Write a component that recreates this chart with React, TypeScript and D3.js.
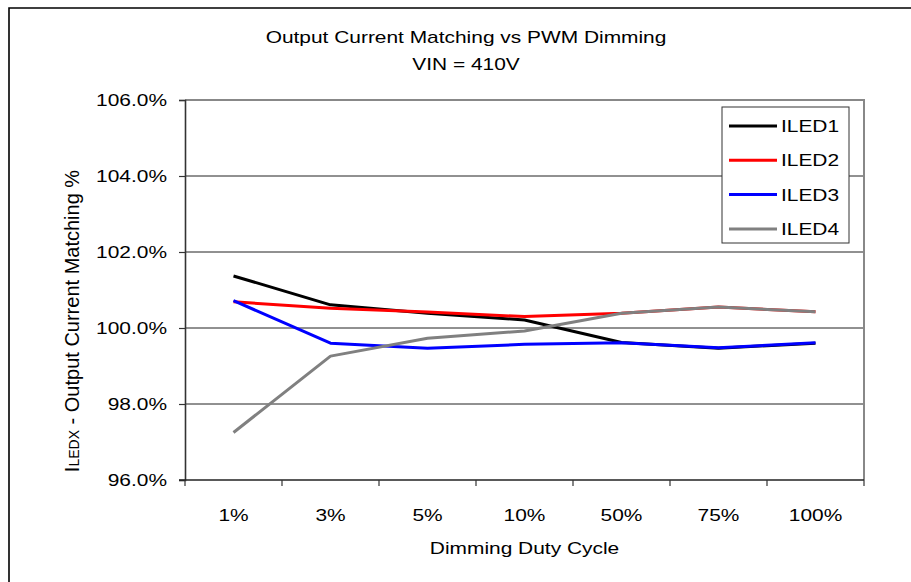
import React, { useEffect, useRef } from 'react'
import * as d3 from 'd3'

const categories = ['1%', '3%', '5%', '10%', '50%', '75%', '100%']
const iled1 = [101.37, 100.61, 100.39, 100.21, 99.62, 99.47, 99.6]
const iled2 = [100.69, 100.52, 100.42, 100.3, 100.39, 100.55, 100.43]
const iled3 = [100.72, 99.6, 99.47, 99.57, 99.61, 99.48, 99.61]
const iled4 = [97.25, 99.26, 99.73, 99.92, 100.39, 100.55, 100.43]
const seriesNames = ['ILED1', 'ILED2', 'ILED3', 'ILED4']
const seriesColors = ['#000000', '#ff0000', '#0000ff', '#808080']
const yTicks = [96, 98, 100, 102, 104, 106]

const FONT = '"Liberation Sans", Arial, sans-serif'
// the reference text is a bit wider than plain Arial
const SX = 1.23

export default function App() {
  const ref = useRef<SVGSVGElement | null>(null)

  useEffect(() => {
    const svg = d3.select(ref.current)
    svg.selectAll('*').remove()

    const left = 185
    const right = 864
    const top = 100
    const bottom = 480

    const x = d3.scaleBand<string>().domain(categories).range([left, right])
    const y = d3.scaleLinear().domain([96, 106]).range([bottom, top])

    const label = (g: any, tx: number, ty: number, str: string, anchor = 'middle') =>
      g.append('text')
        .attr('transform', `translate(${tx},${ty}) scale(${SX},1)`)
        .attr('text-anchor', anchor)
        .attr('font-family', FONT).attr('font-size', 17)
        .text(str)

    // outer frame
    svg.append('path')
      .attr('d', 'M9,600 V8 H920')
      .attr('fill', 'none')
      .attr('stroke', '#000')
      .attr('stroke-width', 1.6)

    // title
    label(svg, 466, 43, 'Output Current Matching vs PWM Dimming')
    label(svg, 466, 70, 'VIN = 410V')

    // gridlines
    svg.append('g')
      .selectAll('line')
      .data(yTicks.filter(d => d > 96 && d < 106))
      .enter()
      .append('line')
      .attr('x1', left).attr('x2', right)
      .attr('y1', d => y(d)).attr('y2', d => y(d))
      .attr('stroke', '#222').attr('stroke-width', 1)

    // plot border top / right (gray)
    svg.append('path')
      .attr('d', `M${left},${y(106)} H${right} V${bottom}`)
      .attr('fill', 'none')
      .attr('stroke', '#888')
      .attr('stroke-width', 2)

    // y axis
    const yAxis = svg.append('g')
      .attr('transform', `translate(${left},0)`)
      .call(d3.axisLeft(y)
        .tickValues(yTicks)
        .tickSize(6)
        .tickPadding(18)
        .tickFormat(d => `${(d as number).toFixed(1)}%`))
    yAxis.select('.domain').attr('stroke', '#333').attr('stroke-width', 1.6)
    yAxis.selectAll('.tick line').attr('stroke', '#333').attr('stroke-width', 1.2)
    yAxis.selectAll('.tick text')
      .attr('font-family', FONT).attr('font-size', 17).attr('fill', '#000')
      .attr('x', 0)
      .attr('transform', `translate(-18,0) scale(${SX},1)`)

    // x axis
    const xAxis = svg.append('g')
    xAxis.append('line')
      .attr('x1', left - 6).attr('x2', right)
      .attr('y1', bottom).attr('y2', bottom)
      .attr('stroke', '#222').attr('stroke-width', 1.6)
    const bounds = categories.map(c => x(c) as number).concat([right])
    xAxis.selectAll('line.tk')
      .data(bounds)
      .enter()
      .append('line')
      .attr('class', 'tk')
      .attr('x1', d => d).attr('x2', d => d)
      .attr('y1', bottom).attr('y2', bottom + 6)
      .attr('stroke', '#333').attr('stroke-width', 1.2)
    categories.forEach(c => label(xAxis, (x(c) as number) + x.bandwidth() / 2, 521, c))

    label(svg, (left + right) / 2, 554, 'Dimming Duty Cycle')

    // y label
    const yl = svg.append('text')
      .attr('transform', `translate(79,321) rotate(-90)`)
      .attr('text-anchor', 'middle')
      .attr('font-family', FONT).attr('font-size', 20)
    yl.append('tspan').text('I')
    yl.append('tspan').attr('font-size', 14).text('LEDX')
    yl.append('tspan').text(' - Output Current Matching %')

    // lines
    const data = [iled1, iled2, iled3, iled4]
    const line = d3.line<number>()
      .x((d, i) => (x(categories[i]) as number) + x.bandwidth() / 2)
      .y(d => y(d))
    svg.append('g')
      .selectAll('path')
      .data(data)
      .enter()
      .append('path')
      .attr('d', d => line(d))
      .attr('fill', 'none')
      .attr('stroke', (d, i) => seriesColors[i])
      .attr('stroke-width', 3)
      .attr('stroke-linejoin', 'round')

    // legend
    const lg = svg.append('g')
    lg.append('rect')
      .attr('x', 722).attr('y', 107)
      .attr('width', 127).attr('height', 136)
      .attr('fill', '#fff')
      .attr('stroke', '#333').attr('stroke-width', 1)
    seriesNames.forEach((name, i) => {
      const ly = 126 + i * 34.3
      lg.append('line')
        .attr('x1', 729).attr('x2', 777)
        .attr('y1', ly).attr('y2', ly)
        .attr('stroke', seriesColors[i])
        .attr('stroke-width', 3)
      label(lg, 781, ly + 6, name, 'start')
    })
  }, [])

  return (
    <svg
      ref={ref}
      width={911}
      height={582}
      style={{ position: 'absolute', left: 0, top: 0, background: '#fff' }}
    />
  )
}
